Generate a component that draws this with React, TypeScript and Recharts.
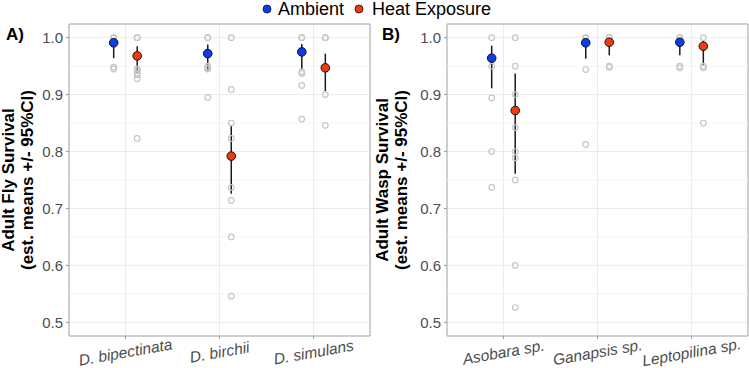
import React from 'react';
import { ScatterChart, Scatter, XAxis, YAxis, CartesianGrid, ErrorBar, ReferenceLine, ReferenceArea } from 'recharts';

const flyCats = ['D. bipectinata', 'D. birchii', 'D. simulans'];
const waspCats = ['Asobara sp.', 'Ganapsis sp.', 'Leptopilina sp.'];

// raw replicate survival, one list per category
const flyAmbientRaw = [
  [1.0, 1.0, 0.948, 0.945],
  [1.0, 1.0, 0.95, 0.947, 0.945, 0.895],
  [1.0, 1.0, 0.94, 0.937, 0.916, 0.857],
];
const flyHeatRaw = [
  [1.0, 1.0, 0.945, 0.942, 0.938, 0.935, 0.928, 0.823],
  [1.0, 0.909, 0.85, 0.823, 0.737, 0.714, 0.65, 0.546],
  [1.0, 1.0, 0.9, 0.846],
];
const waspAmbientRaw = [
  [1.0, 0.95, 0.894, 0.8, 0.737],
  [1.0, 1.0, 0.944, 0.8125],
  [1.0, 1.0, 0.95, 0.947],
];
const waspHeatRaw = [
  [1.0, 0.95, 0.9, 0.842, 0.8, 0.789, 0.75, 0.6, 0.526],
  [1.0, 1.0, 0.95, 0.948],
  [1.0, 0.95, 0.947, 0.85],
];

// estimated means and 95% CI
const flyAmbientMean = [0.991, 0.972, 0.975];
const flyAmbientLow = [0.964, 0.94, 0.944];
const flyAmbientHigh = [0.998, 0.988, 0.989];
const flyHeatMean = [0.968, 0.792, 0.947];
const flyHeatLow = [0.938, 0.726, 0.906];
const flyHeatHigh = [0.985, 0.846, 0.972];

const waspAmbientMean = [0.964, 0.991, 0.992];
const waspAmbientLow = [0.911, 0.963, 0.969];
const waspAmbientHigh = [0.986, 0.998, 0.998];
const waspHeatMean = [0.872, 0.992, 0.985];
const waspHeatLow = [0.761, 0.969, 0.952];
const waspHeatHigh = [0.937, 0.998, 0.995];

const yTicks = [0.5, 0.6, 0.7, 0.8, 0.9, 1.0];
const yMinor = [0.55, 0.65, 0.75, 0.85, 0.95];

const BLUE = '#0a3cf2';
const RED = '#f23a0e';
const FONT = '"Liberation Sans", Arial, sans-serif';
const DODGE = 0.125;
const Y_DOMAIN = [0.476, 1.024];

const rawPoints = (raw: number[][], off: number) =>
  raw.flatMap((vals, i) => vals.map(v => ({ x: i + 1 + off, y: v })));

const meanPoints = (m: number[], lo: number[], hi: number[], off: number) =>
  m.map((v, i) => ({ x: i + 1 + off, y: v, err: [v - lo[i], hi[i] - v] }));

const OpenDot = (p: any) => (
  <circle cx={p.cx} cy={p.cy} r={2.8} fill="none" stroke="#c6c6c6" strokeWidth={1.2} />
);
const NoDot = () => <g />;
const meanDot = (color: string) => (p: any) => (
  <circle cx={p.cx} cy={p.cy} r={4.3} fill={color} stroke="#111" strokeWidth={1} />
);

function Panel(props: any) {
  const { cats, ambRaw, heatRaw, amb, heat, title, tag, yWidth, right } = props;
  const XTick = ({ x, y, payload }: any) => (
    <g transform={`translate(${x},${y + 11}) rotate(-10)`}>
      <text textAnchor="middle" dy="0.36em" fontSize={15.5} fontStyle="italic" fill="#4d4d4d" fontFamily={FONT}>
        {cats[payload.value - 1]}
      </text>
    </g>
  );
  const yLabel = () => (
    <g fontFamily={FONT} fontWeight="bold" fontSize={17} fill="#000">
      <text transform="translate(14,180) rotate(-90)" textAnchor="middle">{title}</text>
      <text transform="translate(33,180) rotate(-90)" textAnchor="middle">(est. means +/- 95%CI)</text>
      <text x={tag === 'A)' ? 6 : 8} y={40}>{tag}</text>
    </g>
  );
  return (
    <ScatterChart width={props.width} height={368} margin={{ top: 24, right, bottom: 0, left: 0 }}>
      <CartesianGrid stroke="#ebebeb" strokeWidth={1} />
      {yMinor.map(v => (
        <ReferenceLine key={v} y={v} stroke="#f4f4f4" strokeWidth={1} />
      ))}
      <XAxis
        type="number"
        dataKey="x"
        domain={[0.4, 3.6]}
        ticks={[1, 2, 3]}
        allowDataOverflow
        height={32}
        axisLine={false}
        tickLine={{ stroke: '#9a9a9a' }}
        tickSize={3}
        tickMargin={2}
        tick={<XTick />}
      />
      <YAxis
        type="number"
        dataKey="y"
        domain={Y_DOMAIN}
        ticks={yTicks}
        allowDataOverflow
        width={yWidth}
        axisLine={false}
        tickLine={{ stroke: '#9a9a9a' }}
        tickSize={3}
        tickMargin={3}
        tickFormatter={(v: number) => v.toFixed(1)}
        tick={{ fontSize: 15, fill: '#4d4d4d', fontFamily: FONT }}
        label={yLabel}
      />
      <ReferenceArea x1={0.4} x2={3.6} y1={Y_DOMAIN[0]} y2={Y_DOMAIN[1]} fill="none" stroke="#a8a8a8" strokeWidth={1} fillOpacity={0} />
      <Scatter data={rawPoints(ambRaw, -DODGE)} shape={OpenDot} isAnimationActive={false} />
      <Scatter data={rawPoints(heatRaw, DODGE)} shape={OpenDot} isAnimationActive={false} />
      <Scatter data={meanPoints(amb[0], amb[1], amb[2], -DODGE)} shape={NoDot} isAnimationActive={false}>
        <ErrorBar dataKey="err" direction="y" width={0} stroke="#1a1a1a" strokeWidth={1.5} isAnimationActive={false} />
      </Scatter>
      <Scatter data={meanPoints(heat[0], heat[1], heat[2], DODGE)} shape={NoDot} isAnimationActive={false}>
        <ErrorBar dataKey="err" direction="y" width={0} stroke="#1a1a1a" strokeWidth={1.5} isAnimationActive={false} />
      </Scatter>
      <Scatter data={meanPoints(amb[0], amb[1], amb[2], -DODGE)} shape={meanDot(BLUE)} isAnimationActive={false} />
      <Scatter data={meanPoints(heat[0], heat[1], heat[2], DODGE)} shape={meanDot(RED)} isAnimationActive={false} />
    </ScatterChart>
  );
}

export default function App() {
  return (
    <div style={{ position: 'absolute', left: 0, top: 0, width: 749, height: 368, background: '#fff', fontFamily: FONT }}>
      <svg width={749} height={24} style={{ position: 'absolute', left: 0, top: 0, zIndex: 2 }}>
        <circle cx={267} cy={9} r={4} fill={BLUE} stroke="#111" strokeWidth={0.8} />
        <text x={278} y={15} fontSize={18} fontFamily={FONT} fill="#000">Ambient</text>
        <circle cx={359} cy={9} r={4} fill={RED} stroke="#111" strokeWidth={0.8} />
        <text x={372} y={15} fontSize={18} fontFamily={FONT} fill="#000">Heat Exposure</text>
      </svg>
      <div style={{ position: 'absolute', left: 0, top: 0 }}>
        <Panel
          cats={flyCats}
          ambRaw={flyAmbientRaw}
          heatRaw={flyHeatRaw}
          amb={[flyAmbientMean, flyAmbientLow, flyAmbientHigh]}
          heat={[flyHeatMean, flyHeatLow, flyHeatHigh]}
          title="Adult Fly Survival"
          tag="A)"
          width={372}
          yWidth={69}
          right={2}
        />
      </div>
      <div style={{ position: 'absolute', left: 374, top: 0 }}>
        <Panel
          cats={waspCats}
          ambRaw={waspAmbientRaw}
          heatRaw={waspHeatRaw}
          amb={[waspAmbientMean, waspAmbientLow, waspAmbientHigh]}
          heat={[waspHeatMean, waspHeatLow, waspHeatHigh]}
          title="Adult Wasp Survival"
          tag="B)"
          width={375}
          yWidth={73}
          right={1}
        />
      </div>
    </div>
  );
}
